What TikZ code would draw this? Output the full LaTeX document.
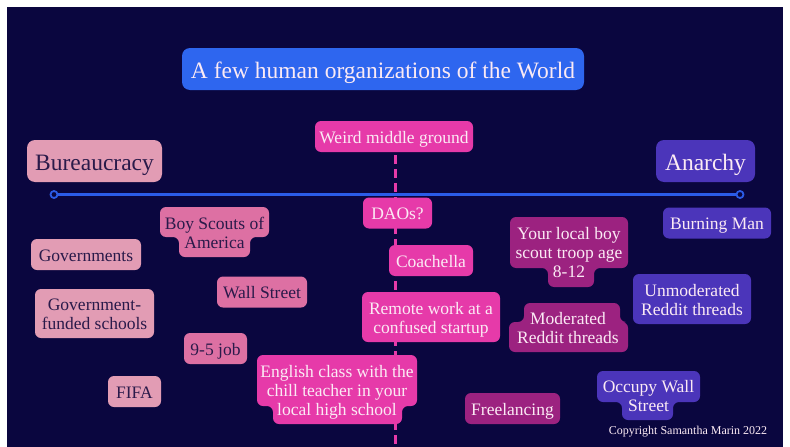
\documentclass[tikz,border=0pt]{standalone}
\usepackage{fontspec}
\setmainfont{Liberation Serif}
\usepackage{xcolor}
\usepackage{tikz}

\definecolor{bgnavy}{HTML}{0A063F}
\definecolor{titleblue}{HTML}{2E66EF}
\definecolor{axisblue}{HTML}{2B5CE8}
\definecolor{palepink}{HTML}{E29CB4}
\definecolor{rosepink}{HTML}{DD70A3}
\definecolor{hotpink}{HTML}{E63AA9}
\definecolor{plumfill}{HTML}{9C2280}
\definecolor{violetfill}{HTML}{4B35BA}
\definecolor{inknavy}{HTML}{2A1A4A}
\definecolor{paper}{HTML}{FBEAF4}

% struts for the first and last line of a text block
\newcommand{\linetop}{\rule{0pt}{17pt}}
\newcommand{\linebot}{\rule[-4pt]{0pt}{4pt}}

\tikzset{
  box/.style={rounded corners=6pt, inner sep=0pt, minimum height=31pt,
    align=center, font=\fontsize{17.5}{19}\selectfont},
  oneline/.style={text height=17pt, text depth=4pt},
  palebox/.style={box, fill=palepink, text=inknavy},
  rosebox/.style={box, fill=rosepink, text=inknavy},
  hotbox/.style={box, fill=hotpink, text=paper},
  plumbox/.style={box, fill=plumfill, text=paper},
  violetbox/.style={box, fill=violetfill, text=paper},
  bigbox/.style={rounded corners=8pt, minimum height=42pt,
    text height=22pt, text depth=4pt, font=\fontsize{23.5}{26}\selectfont},
  hug/.style={rounded corners=6pt},
  hugtext/.style={inner sep=0pt, align=center, font=\fontsize{17.5}{19}\selectfont},
}

\begin{document}
\begin{tikzpicture}[x=1pt, y=-1pt]
    \useasboundingbox (0,0) rectangle (790,447);
    \fill[white] (0,0) rectangle (790,447);
    \fill[bgnavy] (7,7) rectangle (783,447);

    % title and the middle
    \node[box, bigbox, fill=titleblue, text=paper, minimum width=402pt]
      (title) at (383,69) {A few human organizations of the World};
    \node[hotbox, oneline, minimum width=158pt] (weird) at (394,136.5) {Weird middle ground};
    \coordinate (dashend) at (395.5,447);
    \draw[hotpink, line width=3pt, dash pattern=on 9pt off 5pt, shorten <=3pt]
      (weird.south -| dashend) -- (dashend);

    % the axis
    \coordinate (bureauend) at (54,194.5);
    \coordinate (anarchyend) at (740,194.5);
    \draw[axisblue, line width=2.2pt] (bureauend) -- (anarchyend);
    \foreach \e in {bureauend, anarchyend}
      \filldraw[fill=bgnavy, draw=axisblue, line width=1.8pt] (\e) circle (3.5pt);

    \node[palebox, bigbox, minimum width=135pt] (bureau) at (94.5,161) {Bureaucracy};
    \node[violetbox, bigbox, minimum width=99pt] (anarchy) at (705.5,161) {Anarchy};

    % middle ground
    \node[hotbox, oneline, minimum width=69pt] (daos) at (397.5,213) {DAOs?};
    \node[hotbox, oneline, minimum width=84pt] (coachella) at (431,260.5) {Coachella};
    \node[hotbox, minimum width=138pt, minimum height=50pt]
      (remote) at (431,317) {\linetop Remote work at a\\confused startup\linebot};
    \fill[hotpink, hug] (257,355) -- (417,355) -- (417,406) -- (402,406)
      -- (402,424) -- (273,424) -- (273,406) -- (257,406) -- cycle;
    \node[hugtext, text=paper] (english) at (337,389.5)
      {\linetop English class with the\\chill teacher in your\\local high school\linebot};

    % bureaucracy side
    \node[palebox, oneline, minimum width=110pt] (governments) at (86,254.5) {Governments};
    \fill[rosepink, hug] (160,207) -- (269,207) -- (269,237) -- (250,237)
      -- (250,257) -- (179,257) -- (179,237) -- (160,237) -- cycle;
    \node[hugtext, text=inknavy] (scouts) at (214.5,232)
      {\linetop Boy Scouts of\\America\linebot};
    \node[rosebox, oneline, minimum width=90pt] (wallst) at (262,292) {Wall Street};
    \node[palebox, minimum width=119pt, minimum height=49pt]
      (schools) at (94.5,313.5) {\linetop Government-\\funded schools\linebot};
    \node[rosebox, oneline, minimum width=63pt] (ninetofive) at (215.5,348.5) {9-5 job};
    \node[palebox, oneline, minimum width=53pt] (fifa) at (134.5,391.5) {FIFA};

    % anarchy side
    \fill[plumfill, hug] (510,217) -- (628,217) -- (628,268) -- (594,268)
      -- (594,287) -- (548,287) -- (548,268) -- (510,268) -- cycle;
    \node[hugtext, text=paper] (troop) at (569,252)
      {\linetop Your local boy\\scout troop age\\8-12\linebot};
    \node[violetbox, oneline, minimum width=108pt] (burningman) at (717,223) {Burning Man};
    \node[violetbox, minimum width=118pt, minimum height=50pt]
      (unmoderated) at (692,299) {\linetop Unmoderated\\Reddit threads\linebot};
    \fill[plumfill, hug] (524,303) -- (620,303) -- (620,322) -- (628,322)
      -- (628,352) -- (509,352) -- (509,322) -- (524,322) -- cycle;
    \node[hugtext, text=paper] (moderated) at (568,327.5)
      {\linetop Moderated\\Reddit threads\linebot};
    \node[plumbox, oneline, minimum width=95pt] (freelancing) at (512.5,408.5) {Freelancing};
    \fill[violetfill, hug] (597,371) -- (700,371) -- (700,402) -- (673,402)
      -- (673,420) -- (622,420) -- (622,402) -- (597,402) -- cycle;
    \node[hugtext, text=paper] (occupy) at (648.5,395.5)
      {\linetop Occupy Wall\\Street\linebot};

    \node[text=paper, inner sep=0pt, font=\fontsize{12}{14}\selectfont]
      (copyright) at (688,432) {Copyright Samantha Marin 2022};
  \end{tikzpicture}
\end{document}
